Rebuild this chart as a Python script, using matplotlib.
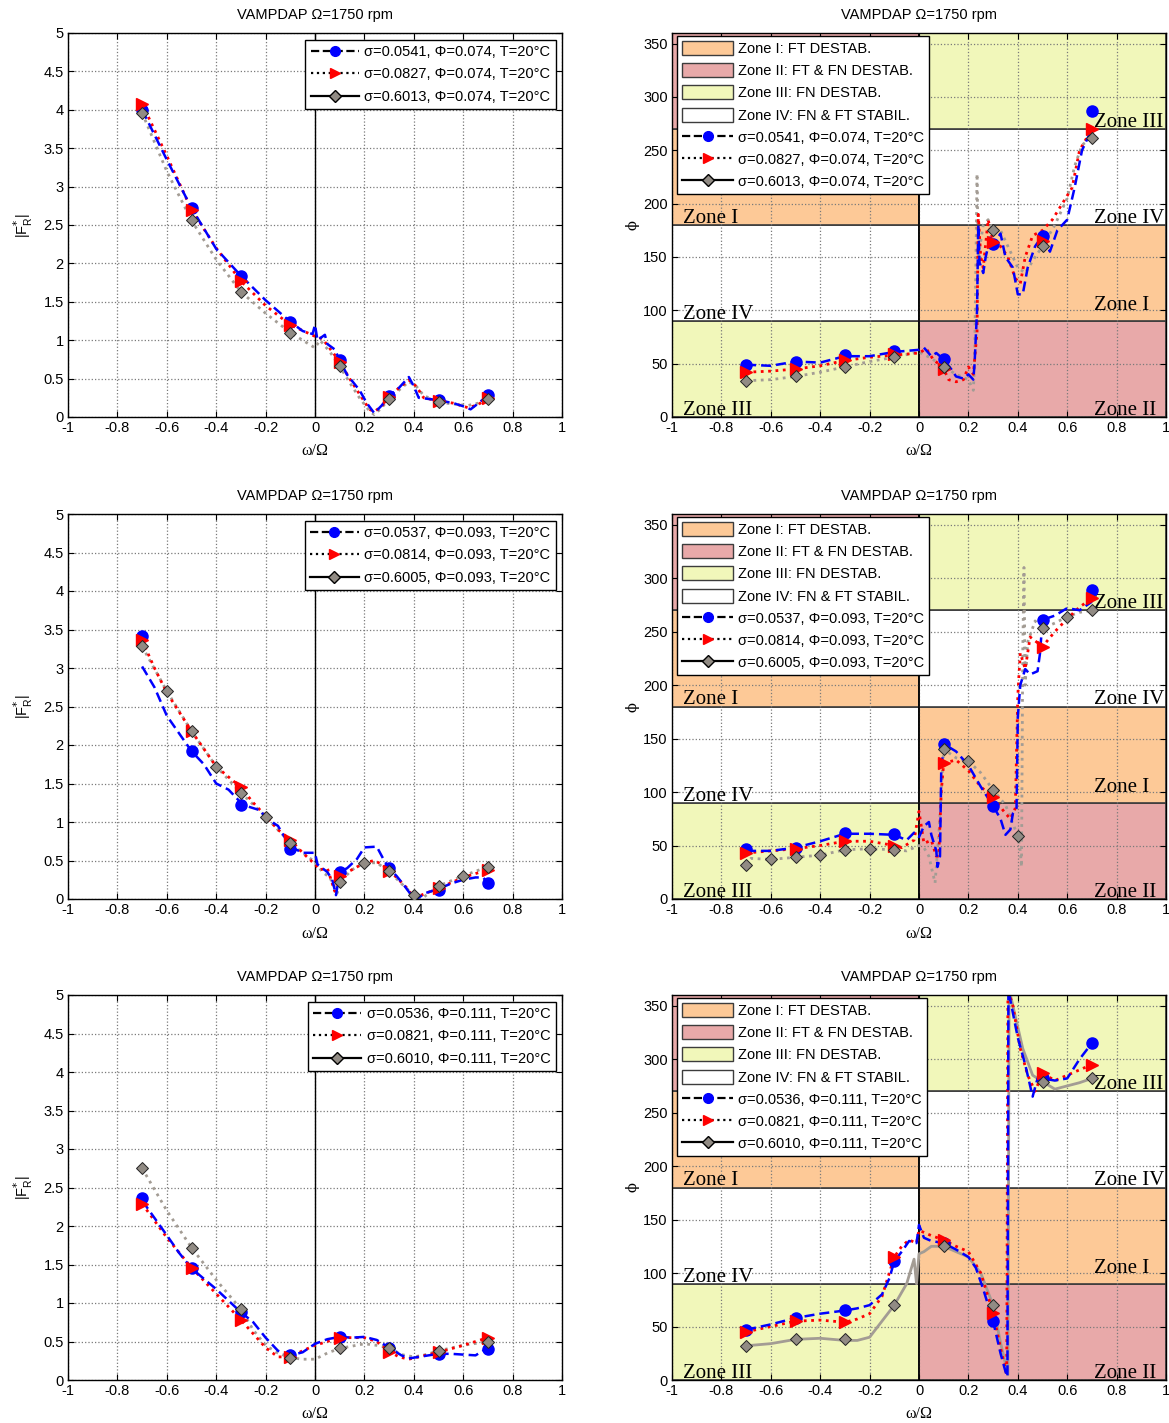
import matplotlib
matplotlib.use("Agg")
import matplotlib.pyplot as plt
from matplotlib.patches import Rectangle, Patch
from matplotlib.lines import Line2D

plt.rcParams['font.family'] = ['Liberation Sans', 'DejaVu Sans']
plt.rcParams['axes.unicode_minus'] = False

# --- common ---
MK_X = [-0.7, -0.5, -0.3, -0.1, 0.1, 0.3, 0.5, 0.7]
GRAY_MK_X2 = [-0.7, -0.6, -0.5, -0.4, -0.3, -0.2, -0.1, 0.1, 0.2, 0.3, 0.4, 0.5, 0.6, 0.7]

SIGMA_LABELS = [
    ['σ=0.0541, Φ=0.074, T=20°C', 'σ=0.0827, Φ=0.074, T=20°C', 'σ=0.6013, Φ=0.074, T=20°C'],
    ['σ=0.0537, Φ=0.093, T=20°C', 'σ=0.0814, Φ=0.093, T=20°C', 'σ=0.6005, Φ=0.093, T=20°C'],
    ['σ=0.0536, Φ=0.111, T=20°C', 'σ=0.0821, Φ=0.111, T=20°C', 'σ=0.6010, Φ=0.111, T=20°C'],
]
ZONE_NAMES = ['Zone I', 'Zone II', 'Zone III', 'Zone IV']
ZONE_LEGEND = ['Zone I: FT DESTAB.', 'Zone II: FT & FN DESTAB.',
               'Zone III: FN DESTAB.', 'Zone IV: FN & FT STABIL.']
ZONE_COLORS = ['#FDC997', '#E8A9A9', '#F1F7BA', '#FFFFFF']
ZONE_BANDS = [0, 90, 180, 270, 360]
ZONES_NEG = [2, 3, 0, 1]   # zone index per band, omega < 0
ZONES_POS = [1, 0, 3, 2]   # zone index per band, omega > 0

# --- row 1 : Phi = 0.074 ---
b1m_x = [-0.7, -0.6, -0.5, -0.4, -0.3, -0.2, -0.1, -0.05, -0.01, 0.0, 0.01, 0.04, 0.05, 0.08, 0.1, 0.13,
         0.18, 0.21, 0.24, 0.27, 0.3, 0.34, 0.38, 0.4, 0.42, 0.5, 0.56, 0.6, 0.63, 0.65, 0.7]
b1m_y = [4.0, 3.35, 2.72, 2.19, 1.84, 1.52, 1.24, 1.12, 1.08, 1.2, 1.0, 1.07, 0.95, 0.88, 0.74, 0.55,
         0.35, 0.18, 0.05, 0.15, 0.27, 0.38, 0.52, 0.40, 0.25, 0.22, 0.18, 0.14, 0.10, 0.15, 0.28]
r1m_x = [-0.7, -0.6, -0.5, -0.4, -0.3, -0.2, -0.1, 0.0, 0.03, 0.07, 0.1, 0.14, 0.18, 0.22, 0.24, 0.27,
         0.3, 0.34, 0.38, 0.41, 0.44, 0.5, 0.56, 0.62, 0.66, 0.7]
r1m_y = [4.08, 3.4, 2.70, 2.2, 1.77, 1.45, 1.20, 1.05, 1.02, 0.85, 0.72, 0.5, 0.3, 0.1, 0.07, 0.14,
         0.26, 0.38, 0.48, 0.40, 0.25, 0.21, 0.18, 0.12, 0.16, 0.25]
g1m_x = [-0.7, -0.6, -0.5, -0.4, -0.3, -0.2, -0.1, 0.0, 0.02, 0.06, 0.1, 0.14, 0.18, 0.22, 0.24, 0.27,
         0.3, 0.34, 0.38, 0.41, 0.44, 0.5, 0.56, 0.62, 0.66, 0.7]
g1m_y = [3.96, 3.2, 2.56, 2.05, 1.63, 1.35, 1.10, 0.9, 1.0, 0.85, 0.66, 0.45, 0.25, 0.08, 0.03, 0.12,
         0.24, 0.35, 0.46, 0.40, 0.28, 0.19, 0.17, 0.15, 0.18, 0.24]
b1m_mk = [4.0, 2.72, 1.84, 1.24, 0.74, 0.27, 0.22, 0.28]
r1m_mk = [4.08, 2.70, 1.77, 1.20, 0.72, 0.26, 0.21, 0.25]
g1m_mk = [3.96, 2.56, 1.63, 1.10, 0.66, 0.24, 0.19, 0.24]

b1p_x = [-0.7, -0.6, -0.5, -0.4, -0.3, -0.2, -0.1, 0.0, 0.02, 0.05, 0.07, 0.1, 0.13, 0.15, 0.18, 0.2,
         0.22, 0.225, 0.235, 0.24, 0.245, 0.26, 0.27, 0.29, 0.3, 0.33, 0.35, 0.38, 0.4, 0.42, 0.44, 0.47,
         0.5, 0.53, 0.56, 0.6, 0.63, 0.66, 0.7]
b1p_y = [49, 48, 52, 51, 57, 57, 61, 63, 65, 57, 60, 54, 45, 38, 36, 40,
         35, 50, 100, 180, 145, 135, 150, 170, 162, 172, 150, 140, 115, 115, 140, 160,
         170, 155, 175, 185, 215, 250, 270]
r1p_x = [-0.7, -0.6, -0.5, -0.4, -0.3, -0.2, -0.1, 0.0, 0.03, 0.06, 0.08, 0.1, 0.12, 0.15, 0.18, 0.2,
         0.22, 0.235, 0.24, 0.25, 0.26, 0.28, 0.3, 0.33, 0.36, 0.39, 0.41, 0.43, 0.46, 0.5, 0.54, 0.58,
         0.62, 0.65, 0.7]
r1p_y = [42, 43, 45, 48, 53, 56, 58, 60, 64, 53, 50, 45, 35, 33, 35, 47,
         40, 80, 190, 150, 140, 185, 164, 160, 150, 130, 125, 150, 170, 175, 185, 200,
         215, 250, 270]
g1p_x = [-0.7, -0.6, -0.5, -0.4, -0.3, -0.2, -0.1, 0.0, 0.05, 0.1, 0.15, 0.2, 0.22, 0.225, 0.235, 0.24,
         0.26, 0.28, 0.3, 0.33, 0.36, 0.4, 0.43, 0.47, 0.5, 0.55, 0.6, 0.63, 0.66, 0.7]
g1p_y = [34, 35, 38, 42, 47, 52, 56, 61, 55, 47, 40, 35, 25, 50, 228, 150,
         180, 185, 175, 175, 160, 140, 135, 150, 160, 180, 205, 235, 255, 262]
b1p_mk = [49, 52, 58, 62, 54, 162, 170, 287]
r1p_mk = [42, 45, 53, 59, 45, 164, 165, 270]
g1p_mk = [34, 38, 47, 56, 47, 175, 160, 262]

# --- row 2 : Phi = 0.093 ---
b2m_x = [-0.7, -0.65, -0.6, -0.55, -0.5, -0.45, -0.4, -0.35, -0.3, -0.27, -0.22, -0.2, -0.15, -0.1,
         -0.05, 0.0, 0.01, 0.05, 0.07, 0.085, 0.1, 0.13, 0.17, 0.2, 0.25, 0.28, 0.3, 0.33, 0.36, 0.39,
         0.41, 0.45, 0.5, 0.55, 0.6, 0.65, 0.68, 0.7]
b2m_y = [3.02, 2.75, 2.38, 2.15, 1.92, 1.75, 1.50, 1.42, 1.25, 1.2, 1.15, 1.05, 0.95, 0.68,
         0.6, 0.6, 0.45, 0.35, 0.25, 0.05, 0.35, 0.40, 0.52, 0.67, 0.68, 0.50, 0.40, 0.30, 0.18, 0.05,
         0.0, 0.08, 0.13, 0.2, 0.25, 0.28, 0.28, 0.21]
r2m_x = [-0.7, -0.65, -0.6, -0.5, -0.4, -0.3, -0.25, -0.2, -0.15, -0.1, -0.05, 0.0, 0.02, 0.05,
         0.08, 0.1, 0.15, 0.2, 0.24, 0.27, 0.3, 0.33, 0.37, 0.4, 0.43, 0.5, 0.6, 0.7]
r2m_y = [3.36, 3.0, 2.68, 2.18, 1.72, 1.45, 1.25, 1.08, 0.9, 0.77, 0.6, 0.45, 0.38, 0.40,
         0.1, 0.30, 0.38, 0.47, 0.5, 0.45, 0.37, 0.28, 0.15, 0.02, 0.05, 0.14, 0.28, 0.38]
g2m_x = [-0.7, -0.6, -0.5, -0.4, -0.3, -0.2, -0.1, -0.05, 0.0, 0.03, 0.06, 0.09, 0.1, 0.15, 0.2,
         0.25, 0.3, 0.35, 0.4, 0.43, 0.5, 0.6, 0.7]
g2m_y = [3.28, 2.70, 2.18, 1.72, 1.38, 1.07, 0.73, 0.6, 0.48, 0.35, 0.28, 0.08, 0.22, 0.38, 0.47,
         0.47, 0.36, 0.20, 0.05, 0.0, 0.17, 0.30, 0.42]
b2m_mk = [3.41, 1.92, 1.22, 0.65, 0.35, 0.40, 0.12, 0.21]
r2m_mk = [3.36, 2.18, 1.45, 0.77, 0.30, 0.37, 0.14, 0.38]
g2m_mk = [3.28, 2.70, 2.18, 1.72, 1.38, 1.07, 0.73, 0.22, 0.47, 0.36, 0.05, 0.17, 0.30, 0.42]

b2p_x = [-0.7, -0.6, -0.5, -0.4, -0.3, -0.2, -0.1, -0.05, -0.02, 0.0, 0.02, 0.04, 0.05, 0.07, 0.075,
         0.085, 0.09, 0.1, 0.15, 0.2, 0.25, 0.3, 0.33, 0.35, 0.37, 0.38, 0.395, 0.4, 0.41, 0.43, 0.45,
         0.48, 0.49, 0.5, 0.55, 0.6, 0.65, 0.7]
b2p_y = [45, 45, 48, 54, 61, 61, 60, 55, 62, 58, 68, 72, 60, 45, 30,
         40, 120, 145, 138, 125, 105, 87, 75, 60, 65, 80, 85, 170, 200, 215, 210,
         213, 230, 261, 265, 272, 270, 278]
r2p_x = [-0.7, -0.6, -0.5, -0.4, -0.3, -0.2, -0.1, -0.07, -0.02, 0.0, 0.02, 0.05, 0.07, 0.08, 0.09,
         0.1, 0.15, 0.2, 0.25, 0.3, 0.35, 0.37, 0.39, 0.4, 0.41, 0.43, 0.45, 0.5, 0.55, 0.6, 0.65, 0.7]
r2p_y = [43, 45, 47, 50, 54, 54, 50, 48, 55, 82, 52, 55, 40, 40, 100,
         127, 130, 120, 105, 95, 80, 75, 85, 190, 230, 215, 245, 236, 250, 262, 273, 281]
g2p_x = [-0.7, -0.68, -0.6, -0.5, -0.4, -0.3, -0.2, -0.1, -0.05, 0.0, 0.02, 0.04, 0.065, 0.08, 0.1,
         0.15, 0.2, 0.25, 0.3, 0.35, 0.4, 0.41, 0.415, 0.42, 0.425, 0.43, 0.44, 0.47, 0.5, 0.55, 0.6,
         0.65, 0.7]
g2p_y = [32, 38, 37, 39, 41, 46, 47, 46, 45, 50, 48, 40, 15, 60, 140,
         132, 129, 118, 102, 88, 59, 45, 30, 230, 310, 200, 240, 260, 253, 258, 264,
         268, 270]
b2p_mk = [47, 48, 62, 61, 145, 87, 261, 289]
r2p_mk = [43, 47, 54, 50, 127, 95, 236, 281]
g2p_mk = [32, 37, 39, 41, 46, 47, 46, 140, 129, 102, 59, 253, 264, 270]

# --- row 3 : Phi = 0.111 ---
b3m_x = [-0.7, -0.6, -0.55, -0.5, -0.4, -0.3, -0.25, -0.2, -0.15, -0.1, -0.05, 0.0, 0.05, 0.1, 0.15,
         0.2, 0.25, 0.3, 0.35, 0.38, 0.42, 0.5, 0.55, 0.65, 0.68, 0.7]
b3m_y = [2.33, 1.88, 1.65, 1.45, 1.18, 0.88, 0.75, 0.55, 0.38, 0.32, 0.36, 0.47, 0.53, 0.56, 0.55,
         0.56, 0.52, 0.42, 0.32, 0.28, 0.30, 0.34, 0.34, 0.32, 0.38, 0.40]
r3m_x = [-0.7, -0.6, -0.5, -0.4, -0.3, -0.25, -0.2, -0.15, -0.1, -0.05, 0.0, 0.05, 0.1, 0.15, 0.2,
         0.25, 0.3, 0.34, 0.38, 0.42, 0.5, 0.6, 0.65, 0.7]
r3m_y = [2.29, 1.85, 1.46, 1.12, 0.78, 0.6, 0.42, 0.3, 0.30, 0.38, 0.45, 0.5, 0.55, 0.55, 0.55,
         0.50, 0.37, 0.30, 0.27, 0.3, 0.36, 0.45, 0.50, 0.55]
g3m_x = [-0.7, -0.6, -0.5, -0.4, -0.3, -0.25, -0.2, -0.15, -0.1, -0.05, 0.0, 0.05, 0.1, 0.15, 0.2,
         0.25, 0.3, 0.35, 0.4, 0.45, 0.5, 0.6, 0.7]
g3m_y = [2.75, 2.2, 1.72, 1.30, 0.92, 0.65, 0.45, 0.35, 0.29, 0.27, 0.27, 0.35, 0.41, 0.44, 0.47,
         0.45, 0.42, 0.33, 0.30, 0.33, 0.38, 0.45, 0.50]
b3m_mk = [2.36, 1.45, 0.88, 0.32, 0.56, 0.42, 0.34, 0.40]
r3m_mk = [2.29, 1.46, 0.78, 0.30, 0.55, 0.37, 0.36, 0.55]
g3m_mk = [2.75, 1.72, 0.92, 0.29, 0.41, 0.42, 0.38, 0.50]

b3p_x = [-0.7, -0.6, -0.5, -0.4, -0.3, -0.25, -0.2, -0.15, -0.12, -0.1, -0.07, -0.04, -0.01, 0.0,
         0.02, 0.05, 0.1, 0.15, 0.2, 0.23, 0.26, 0.3, 0.33, 0.35, 0.358, 0.362, 0.37, 0.4, 0.43, 0.46,
         0.48, 0.5, 0.55, 0.6, 0.65, 0.7]
b3p_y = [47, 52, 58, 62, 65, 67, 70, 80, 95, 111, 120, 130, 128, 145,
         133, 130, 128, 122, 115, 105, 85, 55, 25, 8, 3, 365, 355, 320, 295, 265,
         282, 282, 280, 282, 300, 315]
r3p_x = [-0.7, -0.6, -0.5, -0.4, -0.3, -0.25, -0.2, -0.15, -0.1, -0.07, -0.04, -0.01, 0.0, 0.05,
         0.1, 0.15, 0.2, 0.25, 0.3, 0.33, 0.355, 0.36, 0.38, 0.41, 0.44, 0.47, 0.5, 0.55, 0.6, 0.65, 0.7]
r3p_y = [45, 50, 55, 56, 54, 57, 62, 78, 115, 125, 131, 128, 140, 135,
         131, 125, 120, 100, 63, 30, 5, 365, 350, 310, 285, 270, 287, 280, 285, 290, 295]
g3p_x = [-0.7, -0.6, -0.5, -0.4, -0.3, -0.25, -0.2, -0.15, -0.1, -0.05, -0.02, -0.01, 0.0, 0.02,
         0.05, 0.1, 0.15, 0.2, 0.25, 0.3, 0.33, 0.36, 0.365, 0.38, 0.42, 0.46, 0.5, 0.55, 0.6, 0.65, 0.7]
g3p_y = [32, 34, 38, 39, 37, 37, 40, 55, 70, 90, 113, 90, 118, 120,
         125, 125, 120, 115, 100, 70, 35, 5, 365, 350, 310, 285, 279, 272, 275, 278, 282]
b3p_mk = [47, 58, 65, 111, 128, 55, 282, 315]
r3p_mk = [45, 55, 54, 115, 131, 63, 287, 295]
g3p_mk = [32, 38, 38, 70, 125, 70, 279, 282]

MAG_ROWS = [
    ((b1m_x, b1m_y, b1m_mk), (r1m_x, r1m_y, r1m_mk), (g1m_x, g1m_y, MK_X, g1m_mk)),
    ((b2m_x, b2m_y, b2m_mk), (r2m_x, r2m_y, r2m_mk), (g2m_x, g2m_y, GRAY_MK_X2, g2m_mk)),
    ((b3m_x, b3m_y, b3m_mk), (r3m_x, r3m_y, r3m_mk), (g3m_x, g3m_y, MK_X, g3m_mk)),
]
PHASE_ROWS = [
    ((b1p_x, b1p_y, b1p_mk), (r1p_x, r1p_y, r1p_mk), (g1p_x, g1p_y, MK_X, g1p_mk)),
    ((b2p_x, b2p_y, b2p_mk), (r2p_x, r2p_y, r2p_mk), (g2p_x, g2p_y, GRAY_MK_X2, g2p_mk)),
    ((b3p_x, b3p_y, b3p_mk), (r3p_x, r3p_y, r3p_mk), (g3p_x, g3p_y, MK_X, g3p_mk)),
]
GRAY_PHASE_LS = [':', ':', '-']

BLUE = '#0000FF'
RED = '#FF0000'
GRAY_LINE = '#A39C94'
GRAY_FILL = '#918B84'
FS = 10.5
SERIF = ['Liberation Serif', 'DejaVu Serif']
TITLE = 'VAMPDAP Ω=1750 rpm'


def fmt(v):
    v = round(v, 6)
    return f'{v:g}' if v != 0 else '0'


def style_axes(ax, yticks):
    ax.set_xlim(-1, 1)
    xt = [i / 5 - 1 for i in range(11)]
    ax.set_xticks(xt)
    ax.set_xticklabels([fmt(v) for v in xt])
    ax.set_yticks(yticks)
    ax.set_yticklabels([fmt(v) for v in yticks])
    ax.tick_params(direction='in', top=True, right=True, length=4, width=0.8,
                   labelsize=FS, pad=3)
    ax.grid(True, color='#7a7a7a', linestyle=':', linewidth=0.9)
    ax.set_axisbelow(True)
    for s in ax.spines.values():
        s.set_linewidth(1.0)
    ax.set_title(TITLE, fontsize=FS, pad=10)
    ax.set_xlabel('ω/Ω', family=SERIF, fontsize=11.5, labelpad=6)


def draw_series(ax, row, gray_ls):
    (bx, by, bmk), (rx, ry, rmk), (gx, gy, gmx, gmk) = row
    ax.plot(gx, gy, color=GRAY_LINE, ls=gray_ls, lw=2.0, zorder=2)
    ax.plot(rx, ry, color=RED, ls=':', lw=2.0, zorder=2.1)
    ax.plot(bx, by, color=BLUE, ls=(0, (4, 2)), lw=1.8, zorder=2.2)
    ax.plot(MK_X, bmk, ls='none', marker='o', ms=8, mfc=BLUE, mec=BLUE, zorder=3)
    ax.plot(MK_X, rmk, ls='none', marker='>', ms=8, mfc=RED, mec=RED, zorder=3.1)
    ax.plot(gmx, gmk, ls='none', marker='D', ms=6, mfc=GRAY_FILL, mec='#222222', mew=0.7, zorder=3.2)


def series_handles(labels):
    return [
        Line2D([], [], color='k', ls='--', lw=1.6, marker='o', ms=7, mfc=BLUE, mec=BLUE, label=labels[0]),
        Line2D([], [], color='k', ls=':', lw=1.6, marker='>', ms=7, mfc=RED, mec=RED, label=labels[1]),
        Line2D([], [], color='k', ls='-', lw=1.6, marker='D', ms=6, mfc=GRAY_FILL, mec='k', label=labels[2]),
    ]


fig = plt.figure(figsize=(11.69, 14.23), dpi=100)
W, H = 1169, 1423
rows_px = [(33, 417), (514, 899), (995, 1380)]

for i, (top, bot) in enumerate(rows_px):
    # magnitude
    ax = fig.add_axes([68 / W, 1 - bot / H, 494 / W, (bot - top) / H])
    style_axes(ax, [j * 0.5 for j in range(11)])
    ax.set_ylim(0, 5)
    ax.axvline(0, color='k', lw=1.0, zorder=1.5)
    draw_series(ax, MAG_ROWS[i], ':')
    ax.set_ylabel('|F$_\\mathregular{R}^{*}$|', fontsize=FS, labelpad=6)
    leg = ax.legend(handles=series_handles(SIGMA_LABELS[i]), loc='upper right',
                    bbox_to_anchor=(0.987, 0.983), borderaxespad=0, fontsize=FS,
                    handlelength=3.3, handletextpad=0.4, labelspacing=0.6,
                    borderpad=0.35, fancybox=False, framealpha=1, edgecolor='k')
    leg.get_frame().set_linewidth(1.0)

    # phase
    ax = fig.add_axes([672 / W, 1 - bot / H, 494 / W, (bot - top) / H])
    style_axes(ax, list(range(0, 351, 50)))
    ax.set_ylim(0, 360)
    for k in range(4):
        y0, y1 = ZONE_BANDS[k], ZONE_BANDS[k + 1]
        ax.add_patch(Rectangle((-1, y0), 1, y1 - y0, facecolor=ZONE_COLORS[ZONES_NEG[k]],
                               edgecolor='#3c3c3c', lw=1.2, zorder=0.2))
        ax.add_patch(Rectangle((0, y0), 1, y1 - y0, facecolor=ZONE_COLORS[ZONES_POS[k]],
                               edgecolor='#3c3c3c', lw=1.2, zorder=0.2))
        ax.text(-0.955, y0 + 2, ZONE_NAMES[ZONES_NEG[k]], family=SERIF, fontsize=15,
                va='baseline', ha='left', zorder=2.5)
        ax.text(0.71, y0 + 2 + (8 if ZONES_POS[k] == 0 else 0), ZONE_NAMES[ZONES_POS[k]],
                family=SERIF, fontsize=15, va='baseline', ha='left', zorder=2.5)
    ax.axvline(0, color='k', lw=1.2, zorder=0.6)
    draw_series(ax, PHASE_ROWS[i], GRAY_PHASE_LS[i])
    ax.set_ylabel('ϕ', family=['DejaVu Serif'], fontsize=FS, labelpad=3)
    zone_h = [Patch(facecolor=ZONE_COLORS[k], edgecolor='#3c3c3c', lw=1.0, label=ZONE_LEGEND[k])
              for k in range(4)]
    leg = ax.legend(handles=zone_h + series_handles(SIGMA_LABELS[i]), loc='upper left',
                    bbox_to_anchor=(0.01, 0.993), borderaxespad=0, fontsize=FS,
                    handlelength=3.5, handleheight=1.1, handletextpad=0.35, labelspacing=0.5,
                    borderpad=0.35, fancybox=False, framealpha=1, edgecolor='k')
    leg.get_frame().set_linewidth(1.0)

fig.savefig('out.png', dpi=100)
plt.close(fig)
